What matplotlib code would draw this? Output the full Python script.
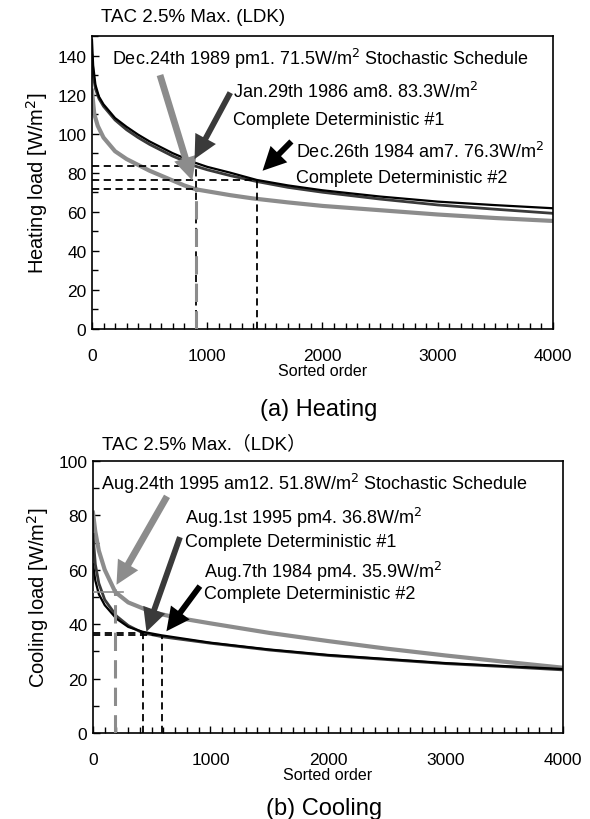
import numpy as np
import matplotlib.pyplot as plt
from matplotlib.ticker import MultipleLocator

plt.rcParams['font.family'] = ['Liberation Sans', 'Noto Sans CJK JP', 'DejaVu Sans']

# ---- heating load duration curves (sorted order, W/m2) ----
h_sto_x = [0, 20, 50, 100, 200, 300, 400, 500, 600, 700, 800, 900, 1000, 1200, 1400, 1700, 2000, 2500, 3000, 3500, 4000]
h_sto_y = [122, 110, 104, 98, 91, 87, 84, 81, 78.5, 76, 73.5, 71.5, 70.5, 68.5, 66.8, 64.8, 63, 60.8, 58.6, 56.8, 55.3]
h_cd1_x = [0, 10, 30, 60, 100, 200, 300, 400, 500, 600, 700, 800, 900, 1000, 1200, 1429, 1700, 2000, 2500, 3000, 3500, 4000]
h_cd1_y = [140, 130, 123, 118, 114, 107, 102, 98, 94.5, 91.5, 88.5, 86, 83.3, 81.5, 78.5, 75.5, 72.5, 70, 66.5, 63.5, 61.3, 59.2]
h_cd2_x = [0, 10, 30, 60, 100, 200, 300, 400, 500, 600, 700, 800, 900, 1000, 1200, 1429, 1700, 2000, 2500, 3000, 3500, 4000]
h_cd2_y = [148, 135, 125, 119, 115, 108, 103.5, 99.5, 96, 93, 90, 87.5, 85, 83, 80, 76.3, 73.5, 71, 67.8, 65.2, 63.4, 61.8]

# ---- cooling load duration curves ----
c_sto_x = [0, 20, 50, 100, 190, 300, 500, 700, 1000, 1500, 2000, 2500, 3000, 3500, 4000]
c_sto_y = [81, 74, 67, 60, 51.8, 48, 44.5, 42.5, 40.3, 36.8, 33.8, 31, 28.5, 26.2, 24]
c_cd1_x = [0, 20, 50, 100, 200, 300, 423, 600, 1000, 1500, 2000, 2500, 3000, 3500, 4000]
c_cd1_y = [73, 62, 55, 49, 43, 39.5, 36.8, 35.3, 33, 30.5, 28.5, 27, 25.5, 24.4, 23.2]
c_cd2_x = [0, 20, 50, 100, 200, 300, 423, 585, 1000, 1500, 2000, 2500, 3000, 3500, 4000]
c_cd2_y = [62, 56, 51, 47, 42, 39, 37.2, 35.9, 33.2, 30.7, 28.7, 27.2, 25.7, 24.6, 23.5]

# TAC 2.5% points: (order, load)
h_pts = {'sto': (900, 71.5), 'cd1': (900, 83.3), 'cd2': (1429, 76.3)}
c_pts = {'sto': (190, 51.8), 'cd1': (423, 36.8), 'cd2': (585, 35.9)}

GRAY = '#8c8c8c'
DARK = '#3a3a3a'
FS = 13

fig = plt.figure(figsize=(5.9, 8.2), dpi=100)
ax1 = fig.add_axes([0.1559, 0.5976, 0.7814, 0.3573])
ax2 = fig.add_axes([0.1576, 0.1049, 0.7966, 0.3317])


def style(ax, ymax, ylabel):
    ax.set_xlim(0, 4000)
    ax.set_ylim(0, ymax)
    ax.xaxis.set_major_locator(MultipleLocator(1000))
    ax.xaxis.set_minor_locator(MultipleLocator(100))
    ax.yaxis.set_major_locator(MultipleLocator(20))
    ax.yaxis.set_minor_locator(MultipleLocator(10))
    ax.tick_params(which='both', direction='in', labelsize=12.5, width=1)
    ax.tick_params(which='major', length=5)
    ax.tick_params(which='minor', length=4)
    ax.tick_params(axis='x', pad=14)
    ax.tick_params(axis='y', pad=4)
    for s in ax.spines.values():
        s.set_linewidth(1.2)
    ax.set_ylabel(ylabel, fontsize=14.5, labelpad=5)
    ax.set_xlabel('Sorted order', fontsize=11.5, labelpad=0)


def ref_lines(ax, pts, sto_h_color='k', sto_h_end=None):
    sx, sy = pts['sto']
    for k in ('cd1', 'cd2'):
        x, y = pts[k]
        ax.plot([0, x], [y, y], color='k', ls=(0, (4, 2.5)), lw=1.3, zorder=3)
        ax.plot([x, x], [0, y], color='k', ls=(0, (4, 2.5)), lw=1.3, zorder=3)
    if sto_h_color == 'k':
        ax.plot([0, sx], [sy, sy], color='k', ls=(0, (4, 2.5)), lw=1.3, zorder=3)
    else:
        ax.plot([0, sto_h_end], [sy, sy], color=sto_h_color, lw=1.2, zorder=3)
    ax.plot([sx, sx], [0, sy + 1], color=GRAY, ls=(0, (6, 3)), lw=2.2, zorder=3)


def arrow(ax, tail, head, color, width):
    ax.annotate('', xy=head, xytext=tail,
                arrowprops=dict(arrowstyle='simple,head_length=1.2,head_width=1.2,tail_width=%s' % width,
                                color=color, lw=0, shrinkA=0, shrinkB=0, mutation_scale=14),
                zorder=5)


# ---------------- (a) Heating ----------------
style(ax1, 150, 'Heating load [W/m$^2$]')
ax1.plot(h_sto_x, h_sto_y, color=GRAY, lw=3, zorder=2)
ax1.plot(h_cd1_x, h_cd1_y, color=DARK, lw=2, zorder=2)
ax1.plot(h_cd2_x, h_cd2_y, color='k', lw=1.6, zorder=2)
ref_lines(ax1, h_pts)

ax1.text(170, 139, 'Dec.24th 1989 pm1. 71.5W/m$^2$ Stochastic Schedule', fontsize=FS, va='center')
arrow(ax1, (590, 130), (870, 76), GRAY, 0.35)
ax1.text(1225, 122, 'Jan.29th 1986 am8. 83.3W/m$^2$', fontsize=FS, va='center')
ax1.text(1225, 107, 'Complete Deterministic #1', fontsize=FS, va='center')
arrow(ax1, (1200, 121), (890, 87), DARK, 0.3)
ax1.text(1770, 91, 'Dec.26th 1984 am7. 76.3W/m$^2$', fontsize=FS, va='center')
ax1.text(1770, 77.5, 'Complete Deterministic #2', fontsize=FS, va='center')
arrow(ax1, (1730, 96), (1480, 81), 'k', 0.3)
ax1.text(0.02, 1.065, 'TAC 2.5% Max. (LDK)', transform=ax1.transAxes, fontsize=13.5, va='center')
fig.text(0.54, 0.5, '(a) Heating', fontsize=17, ha='center', va='center')

# ---------------- (b) Cooling ----------------
style(ax2, 100, 'Cooling load [W/m$^2$]')
ax2.plot(c_sto_x, c_sto_y, color=GRAY, lw=3, zorder=2)
ax2.plot(c_cd1_x, c_cd1_y, color=DARK, lw=2, zorder=2)
ax2.plot(c_cd2_x, c_cd2_y, color='k', lw=1.6, zorder=2)
ref_lines(ax2, c_pts, sto_h_color=GRAY, sto_h_end=255)

ax2.text(68, 92, 'Aug.24th 1995 am12. 51.8W/m$^2$ Stochastic Schedule', fontsize=FS, va='center')
arrow(ax2, (630, 87), (200, 54.5), GRAY, 0.35)
ax2.text(783, 79.5, 'Aug.1st 1995 pm4. 36.8W/m$^2$', fontsize=FS, va='center')
ax2.text(783, 70.3, 'Complete Deterministic #1', fontsize=FS, va='center')
arrow(ax2, (740, 72), (455, 37.2), DARK, 0.3)
ax2.text(945, 59.6, 'Aug.7th 1984 pm4. 35.9W/m$^2$', fontsize=FS, va='center')
ax2.text(945, 51.2, 'Complete Deterministic #2', fontsize=FS, va='center')
arrow(ax2, (910, 54), (625, 37.4), 'k', 0.3)
ax2.text(0.02, 1.065, 'TAC 2.5% Max.（LDK）', transform=ax2.transAxes, fontsize=13.5, va='center')
fig.text(0.55, 0.013, '(b) Cooling', fontsize=17, ha='center', va='center')

fig.savefig('out.png', dpi=100)
